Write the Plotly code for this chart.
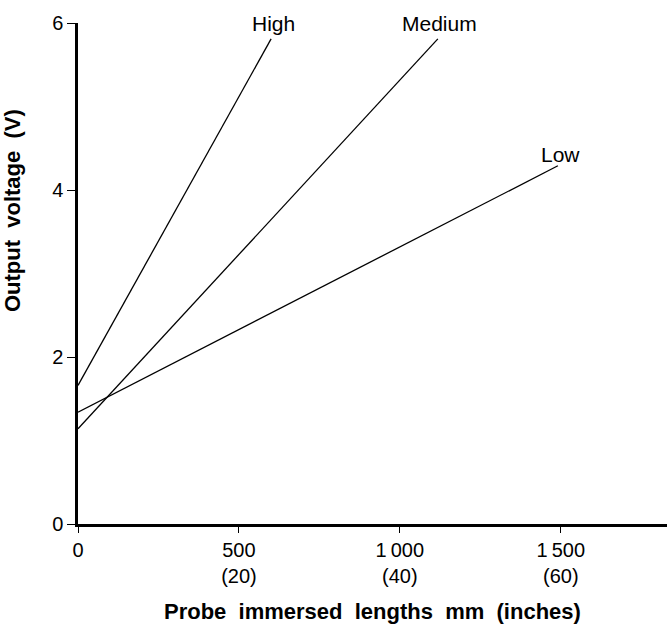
import plotly.graph_objects as go

# Data
series_names = ["High", "Medium", "Low"]
high_x = [0, 600]
high_y = [1.66, 5.81]
medium_x = [0, 1118]
medium_y = [1.14, 5.81]
low_x = [0, 1491]
low_y = [1.34, 4.29]

label_x = [608, 1124, 1500]
label_y = [6.0, 6.0, 4.42]

x_tickvals = [0, 500, 1000, 1500]
x_ticktext = ["0", "500<br>(20)", "1\u2009000<br>(40)", "1\u2009500<br>(60)"]
y_tickvals = [0, 2, 4, 6]
y_ticktext = ["0", "2", "4", "6"]

FONT = "Liberation Sans, Arial, Helvetica, sans-serif"

fig = go.Figure()
for xs, ys, name in [(high_x, high_y, "High"), (medium_x, medium_y, "Medium"), (low_x, low_y, "Low")]:
    fig.add_trace(go.Scatter(x=xs, y=ys, mode="lines", name=name,
                             line=dict(color="black", width=1.3), showlegend=False,
                             cliponaxis=False))

for nm, lx, ly in zip(series_names, label_x, label_y):
    fig.add_annotation(x=lx, y=ly, text=nm, showarrow=False,
                       font=dict(family=FONT, size=21, color="black"),
                       xanchor="center", yanchor="middle")

fig.add_annotation(xref="paper", yref="paper", x=-0.11, y=0.625,
                   text="<b>Output\u00a0\u00a0voltage\u00a0\u00a0(V)</b>", textangle=-90,
                   showarrow=False, font=dict(family=FONT, size=22, color="black"),
                   xanchor="center", yanchor="middle")

fig.add_annotation(xref="paper", yref="paper", x=0.5, y=-0.175,
                   text="<b>Probe\u00a0\u00a0immersed\u00a0\u00a0lengths\u00a0\u00a0mm\u00a0\u00a0(inches)</b>",
                   showarrow=False, font=dict(family=FONT, size=22, color="black"),
                   xanchor="center", yanchor="middle")

fig.update_layout(
    width=667, height=629,
    margin=dict(l=78, r=0, t=23, b=105),
    paper_bgcolor="white", plot_bgcolor="white",
    font=dict(family=FONT, size=20, color="black"),
    xaxis=dict(range=[0, 1830], tickvals=x_tickvals, ticktext=x_ticktext,
               showgrid=False, zeroline=False, showline=True, linecolor="black",
               linewidth=2.5, ticks="outside", ticklen=6, tickwidth=1.2, tickcolor="black",
               tickfont=dict(family=FONT, size=20, color="black")),
    yaxis=dict(range=[0, 6], tickvals=y_tickvals, ticktext=y_ticktext,
               showgrid=False, zeroline=False, showline=True, linecolor="black",
               linewidth=2.5, ticks="outside", ticklen=8, tickwidth=1.2, tickcolor="black",
               tickfont=dict(family=FONT, size=20, color="black")),
)

fig.write_html("out.html")
